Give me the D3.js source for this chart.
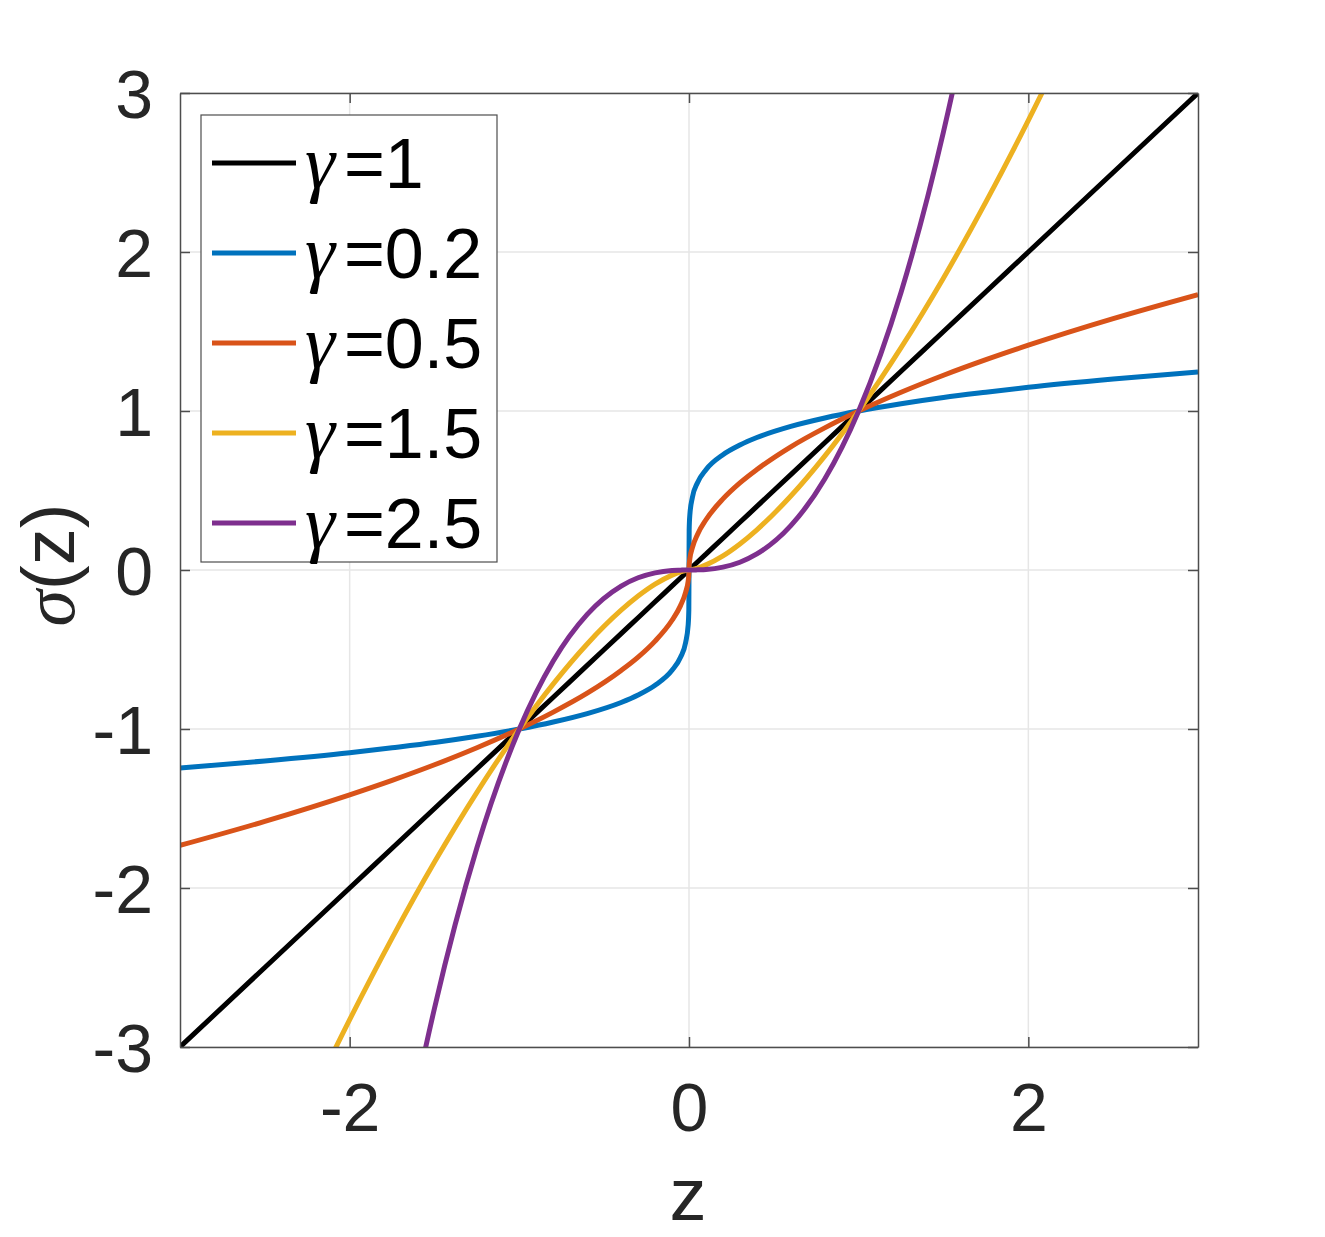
<!DOCTYPE html>
<html>
<head>
<meta charset="utf-8">
<script src="https://cdn.jsdelivr.net/npm/d3@7"></script>
<style>
  body { margin: 0; background: #fff; }
  text { font-family: "Liberation Sans", Arial, sans-serif; fill: #262626; }
</style>
</head>
<body>
<script>
// z sample points
const zGrid = [-3,-2.5,-2,-1.75,-1.5,-1.25,-1,-0.8,-0.6,-0.4,-0.3,-0.2,-0.1,-0.05,-0.02,-0.005,-0.001,0,
  0.001,0.005,0.02,0.05,0.1,0.2,0.3,0.4,0.6,0.8,1,1.25,1.5,1.75,2,2.5,3];

const gamma1 = [-3,-2.5,-2,-1.75,-1.5,-1.25,-1,-0.8,-0.6,-0.4,-0.3,-0.2,-0.1,-0.05,-0.02,-0.005,-0.001,0,
  0.001,0.005,0.02,0.05,0.1,0.2,0.3,0.4,0.6,0.8,1,1.25,1.5,1.75,2,2.5,3];
const gamma02 = [-1.246,-1.201,-1.149,-1.118,-1.085,-1.046,-1,-0.956,-0.903,-0.833,-0.786,-0.725,-0.631,-0.549,-0.457,-0.347,-0.251,0,
  0.251,0.347,0.457,0.549,0.631,0.725,0.786,0.833,0.903,0.956,1,1.046,1.085,1.118,1.149,1.201,1.246];
const gamma05 = [-1.732,-1.581,-1.414,-1.323,-1.225,-1.118,-1,-0.894,-0.775,-0.632,-0.548,-0.447,-0.316,-0.224,-0.141,-0.071,-0.032,0,
  0.032,0.071,0.141,0.224,0.316,0.447,0.548,0.632,0.775,0.894,1,1.118,1.225,1.323,1.414,1.581,1.732];
const gamma15 = [-5.196,-3.953,-2.828,-2.315,-1.837,-1.398,-1,-0.716,-0.465,-0.253,-0.164,-0.089,-0.032,-0.011,-0.003,-0.0004,0,0,
  0,0.0004,0.003,0.011,0.032,0.089,0.164,0.253,0.465,0.716,1,1.398,1.837,2.315,2.828,3.953,5.196];
const gamma25 = [-15.588,-9.882,-5.657,-4.051,-2.756,-1.747,-1,-0.572,-0.279,-0.101,-0.049,-0.018,-0.003,-0.001,0,0,0,0,
  0,0,0,0.001,0.003,0.018,0.049,0.101,0.279,0.572,1,1.747,2.756,4.051,5.657,9.882,15.588];

const seriesNames = ["1", "0.2", "0.5", "1.5", "2.5"];
const seriesValues = [gamma1, gamma02, gamma05, gamma15, gamma25];
const seriesColors = ["#000000", "#0072BD", "#D95319", "#EDB120", "#7E2F8E"];

const xTicks = [-2, 0, 2];
const yTicks = [-3, -2, -1, 0, 1, 2, 3];

const W = 1325, H = 1237;
const mLeft = 180, mRight = 1198, mTop = 93, mBottom = 1047;

const svg = d3.select("body").append("svg")
  .attr("width", W).attr("height", H);

const x = d3.scaleLinear().domain([-3, 3]).range([mLeft, mRight]);
const y = d3.scaleLinear().domain([-3, 3]).range([mBottom, mTop]);

// grid
svg.append("g").selectAll("line").data(xTicks).join("line")
  .attr("x1", d => x(d)).attr("x2", d => x(d))
  .attr("y1", mTop).attr("y2", mBottom)
  .attr("stroke", "#e6e6e6").attr("stroke-width", 1.5);
svg.append("g").selectAll("line").data(yTicks).join("line")
  .attr("x1", mLeft).attr("x2", mRight)
  .attr("y1", d => y(d)).attr("y2", d => y(d))
  .attr("stroke", "#e6e6e6").attr("stroke-width", 1.5);

// curves
svg.append("defs").append("clipPath").attr("id", "clip")
  .append("rect").attr("x", mLeft).attr("y", mTop)
  .attr("width", mRight - mLeft).attr("height", mBottom - mTop);

const line = d3.line()
  .x((d, i) => x(zGrid[i]))
  .y(d => y(d))
  .curve(d3.curveMonotoneX);

svg.append("g").attr("clip-path", "url(#clip)")
  .selectAll("path").data(seriesValues).join("path")
  .attr("d", d => line(d))
  .attr("fill", "none")
  .attr("stroke", (d, i) => seriesColors[i])
  .attr("stroke-width", 5)
  .attr("stroke-linejoin", "round");

// axes (box with inward ticks)
const axisColor = "#4d4d4d";
const fs = 68;
const fmt = d => String(d);
const xb = svg.append("g").attr("transform", `translate(0,${mBottom})`)
  .call(d3.axisBottom(x).tickValues(xTicks).tickSizeInner(-10).tickSizeOuter(0).tickPadding(35).tickFormat(fmt));
const xt = svg.append("g").attr("transform", `translate(0,${mTop})`)
  .call(d3.axisTop(x).tickValues(xTicks).tickSizeInner(-10).tickSizeOuter(0).tickFormat(""));
const yl = svg.append("g").attr("transform", `translate(${mLeft},0)`)
  .call(d3.axisLeft(y).tickValues(yTicks).tickSizeInner(-10).tickSizeOuter(0).tickPadding(27).tickFormat(fmt));
const yr = svg.append("g").attr("transform", `translate(${mRight},0)`)
  .call(d3.axisRight(y).tickValues(yTicks).tickSizeInner(-10).tickSizeOuter(0).tickFormat(""));

[xb, xt, yl, yr].forEach(g => {
  g.select(".domain").attr("stroke", axisColor).attr("stroke-width", 1.5);
  g.selectAll(".tick line").attr("stroke", axisColor).attr("stroke-width", 1.5);
  g.selectAll(".tick text").attr("font-size", fs)
    .attr("font-family", "Liberation Sans, Arial, sans-serif").attr("fill", "#262626");
});
xb.selectAll(".tick text").attr("dy", "0.72em");
yl.selectAll(".tick text").attr("dy", "0.36em");

// axis labels
svg.append("text")
  .attr("x", 688).attr("y", 1220)
  .attr("text-anchor", "middle").attr("font-size", 74).text("z");

const yLab = svg.append("text")
  .attr("transform", `translate(74,565) rotate(-90)`)
  .attr("text-anchor", "middle").attr("font-size", 74);
yLab.append("tspan").attr("font-family", "Liberation Serif, serif")
  .attr("font-style", "italic").text("σ");
yLab.append("tspan").text("(z)");

// legend
const lg = svg.append("g");
lg.append("rect").attr("x", 201).attr("y", 115).attr("width", 296).attr("height", 447)
  .attr("fill", "#fff").attr("stroke", axisColor).attr("stroke-width", 1.2);
const ent = lg.selectAll("g.ent").data(seriesNames).join("g")
  .attr("class", "ent")
  .attr("transform", (d, i) => `translate(0,${163 + i * 90})`);
ent.append("line").attr("x1", 212).attr("x2", 296)
  .attr("stroke", (d, i) => seriesColors[i]).attr("stroke-width", 5);
const lt = ent.append("text").attr("x", 305).attr("y", 25)
  .attr("font-size", 70).style("fill", "#000");
lt.append("tspan").attr("font-family", "Liberation Serif, serif")
  .attr("font-style", "italic").attr("font-size", 76).style("fill", "#000").text("γ");
lt.append("tspan").attr("dx", 9).style("fill", "#000").text(d => "=" + d);
</script>
</body>
</html>
